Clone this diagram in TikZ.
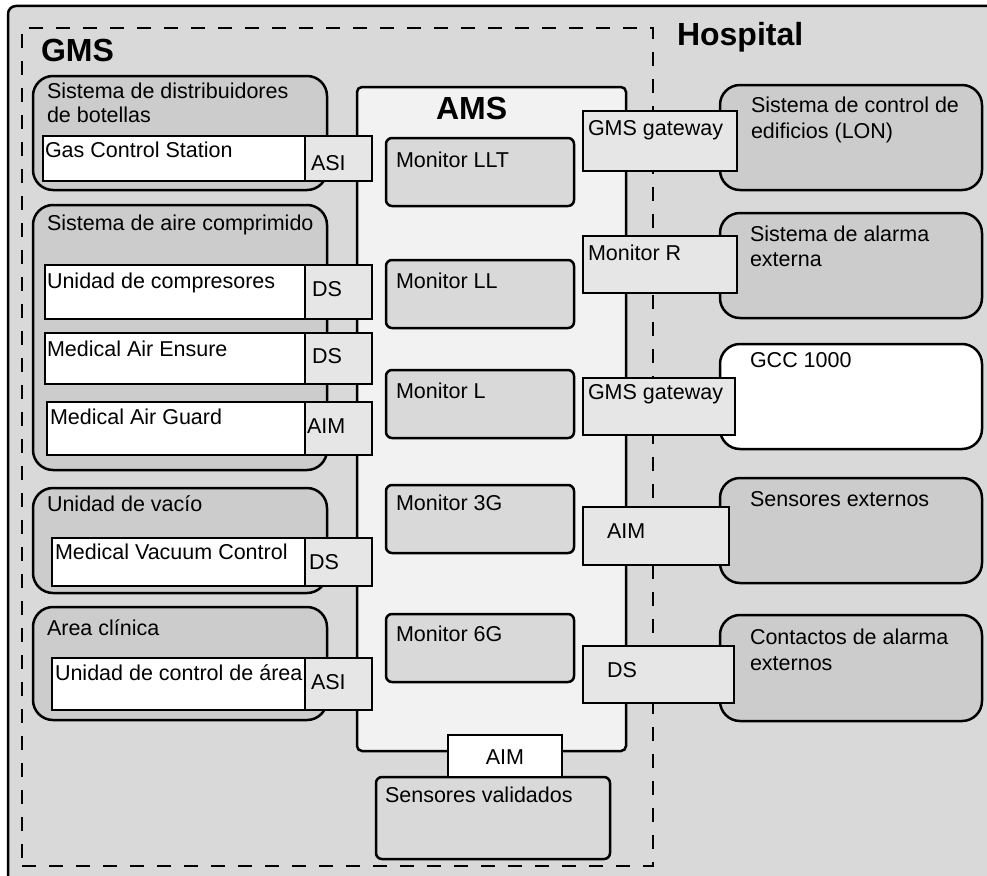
\documentclass[tikz,border=0pt]{standalone}
\usepackage{fontspec}
\setmainfont{Liberation Sans}
\definecolor{hosp}{HTML}{D9D9D9}
\definecolor{grpgray}{HTML}{CCCCCC}
\definecolor{amsfill}{HTML}{F2F2F2}
\definecolor{monfill}{HTML}{D9D9D9}
\definecolor{iffill}{HTML}{E6E6E6}
\begin{document}
\begin{tikzpicture}[x=1pt,y=-1pt,
  every node/.style={inner sep=0pt,outer sep=0pt},
  shapebox/.style={draw=black,line width=2.5pt,anchor=north west,rectangle},
  grp/.style={shapebox,fill=grpgray,rounded corners=20pt},
  whitebox/.style={shapebox,fill=white},
  ifbox/.style={shapebox,fill=iffill},
  monbox/.style={shapebox,fill=monfill,rounded corners=6pt},
  extbox/.style={shapebox,fill=grpgray,rounded corners=20pt},
  lbl/.style={anchor=base west,font=\fontsize{21.5}{24}\selectfont},
  ttl/.style={anchor=base west,font=\fontsize{32}{36}\selectfont\bfseries}]
\useasboundingbox (0,0) rectangle (987,875);

% Hospital
\node[shapebox,fill=hosp,rounded corners=8pt,minimum width=995pt,minimum height=885pt] (hospital) at (8,6) {};
\node[ttl] (hospitalT) at (677,46) {Hospital};

% GMS dashed area
\node[shapebox,dash pattern=on 14pt off 13pt,minimum width=631pt,minimum height=838pt] (gms) at (22,28) {};
\node[ttl] (gmsT) at (41,61) {GMS};

% Left groups
\node[grp,minimum width=294pt,minimum height=114pt] (g1) at (33,76) {};
\node[lbl] (g1T) at (47,98) {Sistema de distribuidores};
\node[lbl] (g1Tb) at (47,122) {de botellas};
\node[grp,minimum width=294pt,minimum height=265pt] (g2) at (33,205) {};
\node[lbl] (g2T) at (47,230) {Sistema de aire comprimido};
\node[grp,minimum width=294pt,minimum height=105pt] (g3) at (33,488) {};
\node[lbl] (g3T) at (47,511) {Unidad de vacío};
\node[grp,minimum width=294pt,minimum height=113pt] (g4) at (33,607) {};
\node[lbl] (g4T) at (47,635) {Area clínica};

% White device boxes
\node[whitebox,minimum width=262pt,minimum height=45pt] (gcs) at (43,136) {};
\node[lbl] (gcsT) at (45,157) {Gas Control Station};
\node[whitebox,minimum width=260pt,minimum height=54pt] (comp) at (45,265) {};
\node[lbl] (compT) at (47,288) {Unidad de compresores};
\node[whitebox,minimum width=260pt,minimum height=51pt] (ens) at (45,333) {};
\node[lbl] (ensT) at (47,356) {Medical Air Ensure};
\node[whitebox,minimum width=258pt,minimum height=53pt] (guard) at (47,402) {};
\node[lbl] (guardT) at (50,424) {Medical Air Guard};
\node[whitebox,minimum width=253pt,minimum height=48pt] (vac) at (52,538) {};
\node[lbl] (vacT) at (55,559) {Medical Vacuum Control};
\node[whitebox,minimum width=253pt,minimum height=52pt] (area) at (52,658) {};
\node[lbl] (areaT) at (55,680) {Unidad de control de área};

% AMS
\node[shapebox,fill=amsfill,rounded corners=5pt,minimum width=269pt,minimum height=664pt] (ams) at (357,87) {};
\node[ttl] (amsT) at (436,119) {AMS};

% Left interface boxes
\node[ifbox,minimum width=67pt,minimum height=45pt] (asi1) at (305,136) {};
\node[lbl] (asi1T) at (311,170) {ASI};
\node[ifbox,minimum width=67pt,minimum height=54pt] (ds1) at (305,265) {};
\node[lbl] (ds1T) at (312,296) {DS};
\node[ifbox,minimum width=67pt,minimum height=51pt] (ds2) at (305,333) {};
\node[lbl] (ds2T) at (312,363) {DS};
\node[ifbox,minimum width=67pt,minimum height=53pt] (aim1) at (305,402) {};
\node[lbl] (aim1T) at (307,433) {AIM};
\node[ifbox,minimum width=67pt,minimum height=48pt] (ds3) at (305,538) {};
\node[lbl] (ds3T) at (309,569) {DS};
\node[ifbox,minimum width=67pt,minimum height=52pt] (asi2) at (305,658) {};
\node[lbl] (asi2T) at (311,689) {ASI};

% Monitors
\node[monbox,minimum width=188pt,minimum height=68pt] (mllt) at (386,138) {};
\node[lbl] (mlltT) at (396,167) {Monitor LLT};
\node[monbox,minimum width=188pt,minimum height=68pt] (mll) at (386,260) {};
\node[lbl] (mllT) at (396,288) {Monitor LL};
\node[monbox,minimum width=188pt,minimum height=68pt] (ml) at (386,370) {};
\node[lbl] (mlT) at (396,398) {Monitor L};
\node[monbox,minimum width=188pt,minimum height=68pt] (m3g) at (386,485) {};
\node[lbl] (m3gT) at (396,510) {Monitor 3G};
\node[monbox,minimum width=188pt,minimum height=68pt] (m6g) at (386,614) {};
\node[lbl] (m6gT) at (396,641) {Monitor 6G};

% Right external systems
\node[extbox,minimum width=262pt,minimum height=105pt] (lon) at (720,85) {};
\node[lbl] (lonT) at (751,112) {Sistema de control de};
\node[lbl] (lonTb) at (751,138) {edificios (LON)};
\node[extbox,minimum width=262pt,minimum height=105pt] (alarm) at (720,213) {};
\node[lbl] (alarmT) at (750,241) {Sistema de alarma};
\node[lbl] (alarmTb) at (750,266) {externa};
\node[extbox,fill=white,minimum width=262pt,minimum height=105pt] (gcc) at (720,344) {};
\node[lbl] (gccT) at (750,367) {GCC 1000};
\node[extbox,minimum width=262pt,minimum height=105pt] (sens) at (720,478) {};
\node[lbl] (sensT) at (750,506) {Sensores externos};
\node[extbox,minimum width=262pt,minimum height=106pt] (cont) at (720,615) {};
\node[lbl] (contT) at (750,644) {Contactos de alarma};
\node[lbl] (contTb) at (750,670) {externos};

% Right interface boxes
\node[ifbox,minimum width=154pt,minimum height=60pt] (gw1) at (583,111) {};
\node[lbl] (gw1T) at (588,135) {GMS gateway};
\node[ifbox,minimum width=154pt,minimum height=57pt] (monr) at (583,236) {};
\node[lbl] (monrT) at (588,260) {Monitor R};
\node[ifbox,minimum width=152pt,minimum height=57pt] (gw2) at (583,378) {};
\node[lbl] (gw2T) at (588,399) {GMS gateway};
\node[ifbox,minimum width=146pt,minimum height=58pt] (aimr) at (583,507) {};
\node[lbl] (aimrT) at (607,538) {AIM};
\node[ifbox,minimum width=151pt,minimum height=57pt] (dsr) at (583,646) {};
\node[lbl] (dsrT) at (607,677) {DS};

% Sensores validados
\node[monbox,minimum width=234pt,minimum height=82pt] (val) at (376,777) {};
\node[lbl] (valT) at (385,802) {Sensores validados};
\node[whitebox,minimum width=114pt,minimum height=42pt] (aimb) at (448,735) {};
\node[lbl,anchor=base] (aimbT) at (505,764) {AIM};
\end{tikzpicture}
\end{document}
